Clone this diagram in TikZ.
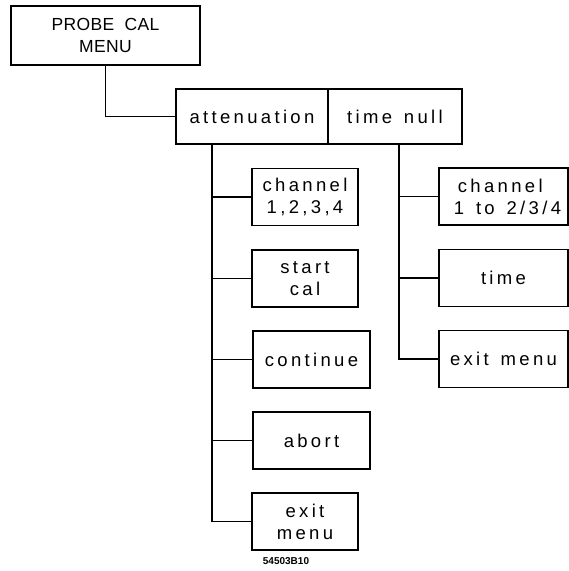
\documentclass[tikz,border=0pt]{standalone}
\usepackage{fontspec}
\usepackage{tikz}
\usetikzlibrary{positioning, calc}
\newfontfamily\plotfont{Liberation Sans}[LetterSpace=18, WordSpace=1.4]
\newfontfamily\capsfont{Liberation Sans}[LetterSpace=2, WordSpace=2.0]
\newfontfamily\tagfont{Liberation Sans}

\begin{document}
\begin{tikzpicture}[
    x=1pt, y=1pt,
    line width=1.1pt,
    menubox/.style={draw, minimum width=#1, minimum height=57pt, inner sep=0pt, align=center,
        font=\plotfont\fontsize{18.5}{22}\selectfont},
    menubox/.default=106pt,
    tree/.style={line width=1.1pt},
]
\useasboundingbox (0,0) rectangle (569,-571);

% top menu
\node[menubox=189pt, minimum height=59pt, font=\capsfont\fontsize{17.5}{22.5}\selectfont]
    (probe) at (105.5,-35.5) {PROBE CAL\\MENU};
\node[menubox=152pt, minimum height=55pt] (atten) at (252,-116.5) {attenuation};
\node[menubox=134pt, minimum height=55pt] (tnull) at (395,-116.5) {time null};

% attenuation keys
\node[menubox] (chan) at (305,-197) {channel\\1,2,3,4};
\node[menubox] (start) at (305,-278.5) {start\\cal};
\node[menubox=117pt] (cont) at (311.5,-359.5) {continue};
\node[menubox=117pt] (abort) at (311.5,-440.5) {abort};
\node[menubox] (exitA) at (305,-521.5) {exit\\menu};

% time null keys
\node[menubox=129pt, align=left] (chanB) at (503.5,-196.5)
    {\hspace*{12pt}channel\\\hspace*{8pt}1 to 2/3/4};
\node[menubox=129pt] (timeB) at (503.5,-278) {time};
\node[menubox=129pt] (exitB) at (503.5,-359) {exit menu};

\node[font=\tagfont\bfseries\fontsize{10}{11}\selectfont] (tag) at (286,-561) {54503B10};

% connectors
\coordinate (lt) at (212,-144);
\coordinate (rt) at (399,-144);
\draw[tree] (probe.south) |- (atten.west);
\draw[tree] (lt) |- (exitA.west);
\foreach \k in {chan, start, cont, abort}
    \draw[tree] (lt |- \k.west) -- (\k.west);
\draw[tree] (rt) |- (exitB.west);
\foreach \k in {chanB, timeB}
    \draw[tree] (rt |- \k.west) -- (\k.west);

\end{tikzpicture}
\end{document}
